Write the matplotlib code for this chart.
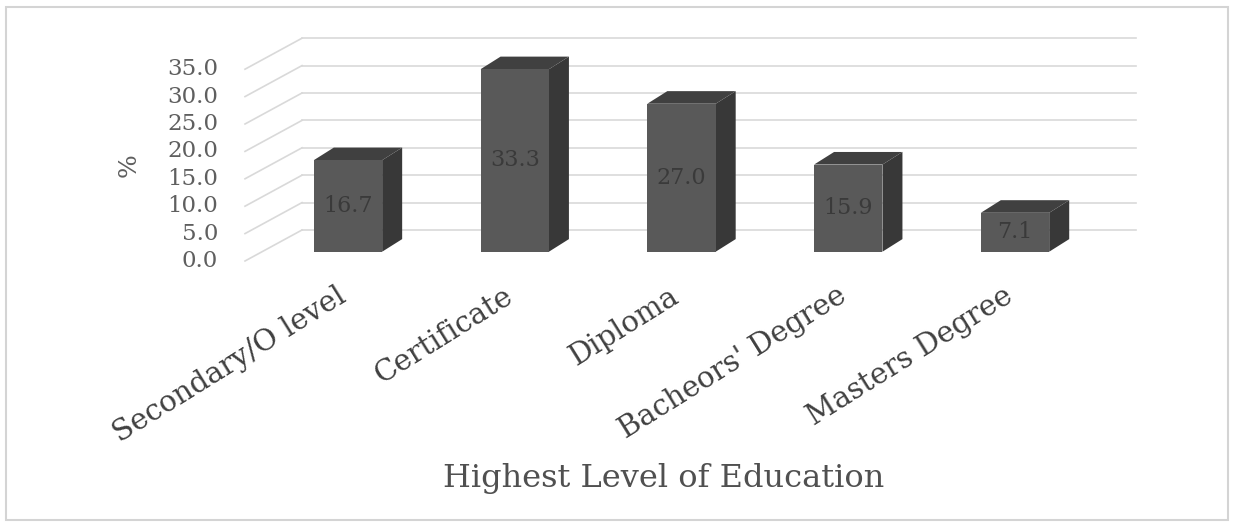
import matplotlib
matplotlib.use("Agg")
import matplotlib.pyplot as plt
from matplotlib import transforms as mtransforms
from matplotlib.patches import Rectangle, Polygon
from matplotlib.lines import Line2D

# ---- data -------------------------------------------------------------
categories = ["Secondary/O level", "Certificate", "Diploma",
              "Bacheors' Degree", "Masters Degree"]
percentages = [16.7, 33.3, 27.0, 15.9, 7.1]
y_ticks = [0, 5, 10, 15, 20, 25, 30, 35]
x_title = "Highest Level of Education"
y_title = "%"

# ---- styling ----------------------------------------------------------
W, H, DPI = 1234, 522, 100
FONT = "DejaVu Serif"
FRONT_COLOR = "#595959"
SIDE_COLOR = "#383838"
TOP_COLOR = "#404040"
GRID_COLOR = "#d9d9d9"
BAR_WIDTH = 0.41

# pseudo-3D offsets in pixels (x right, y up)
WALL_DX, WALL_DY = 37.4, 21.7      # back wall relative to bar fronts
FLOOR_DX, FLOOR_DY = -19.6, -9.3   # front edge of floor
BAR_DX, BAR_DY = 20.0, 12.6        # bar depth

fig = plt.figure(figsize=(W / DPI, H / DPI), dpi=DPI)
ax = fig.add_axes([264.6 / W, 270.3 / H, (1098.4 - 264.6) / W, (462.1 - 270.3) / H])
ax.set_xlim(-0.5, len(categories) - 0.5)
ax.set_ylim(0, 35)
ax.axis("off")

to_fig = fig.transFigure.inverted()


def shifted(dx, dy):
    return mtransforms.offset_copy(ax.transData, fig=fig, x=dx, y=dy, units="dots")


def fig_points(pts):
    """Convert (data x, data y, dx px, dy px) tuples to figure fractions."""
    out = []
    for x, y, dx, dy in pts:
        px, py = ax.transData.transform((x, y))
        out.append(to_fig.transform((px + dx, py + dy)))
    return out


x0, x1 = ax.get_xlim()

# gridlines: back wall + diagonal on the side wall (drawn beneath the axes)
for v in y_ticks:
    back = fig_points([(x0, v, WALL_DX, WALL_DY), (x1, v, WALL_DX, WALL_DY)])
    fig.add_artist(Line2D([back[0][0], back[1][0]], [back[0][1], back[1][1]],
                          transform=fig.transFigure, color=GRID_COLOR, lw=1.2,
                          zorder=-2))
    diag = fig_points([(x0, v, FLOOR_DX, FLOOR_DY), (x0, v, WALL_DX, WALL_DY)])
    fig.add_artist(Line2D([diag[0][0], diag[1][0]], [diag[0][1], diag[1][1]],
                          transform=fig.transFigure, color=GRID_COLOR, lw=1.2,
                          zorder=-2))
    ax.text(x0, v, f"{v:.1f}", transform=shifted(FLOOR_DX - 27, FLOOR_DY),
            ha="right", va="center", fontsize=16.5, color="#5f5f5f",
            family=FONT, clip_on=False)

# bars
for i, v in enumerate(percentages):
    left, right = i - BAR_WIDTH / 2, i + BAR_WIDTH / 2
    side = fig_points([(right, 0, 0, 0), (right, v, 0, 0),
                       (right, v, BAR_DX, BAR_DY), (right, 0, BAR_DX, BAR_DY)])
    top = fig_points([(left, v, 0, 0), (right, v, 0, 0),
                      (right, v, BAR_DX, BAR_DY), (left, v, BAR_DX, BAR_DY)])
    fig.add_artist(Polygon(side, closed=True, transform=fig.transFigure,
                           facecolor=SIDE_COLOR, edgecolor="none", zorder=-1))
    fig.add_artist(Polygon(top, closed=True, transform=fig.transFigure,
                           facecolor=TOP_COLOR, edgecolor="none", zorder=-1))
    ax.add_patch(Rectangle((left, 0), BAR_WIDTH, v, facecolor=FRONT_COLOR,
                           edgecolor="none", zorder=3, clip_on=False))
    ax.text(i, v / 2, f"{v:.1f}", ha="center", va="center", fontsize=16,
            color="#3a3a3a", family=FONT, zorder=4)
    ax.text(i, 0, categories[i], transform=shifted(-12, -30),
            ha="right", va="top", rotation=32, rotation_mode="anchor",
            fontsize=21, color="#404040", family=FONT, clip_on=False)

# axis titles
fig.text(663.5 / W, 1 - 487 / H, x_title, ha="center", va="baseline",
         fontsize=23, color="#505050", family=FONT)
fig.text(129 / W, 1 - 165 / H, y_title, ha="center", va="center", rotation=90,
         fontsize=18, color="#5f5f5f", family=FONT)

# chart border
fig.add_artist(Rectangle((6 / W, 1 - 520 / H), (1228 - 6) / W, (520 - 7) / H,
                         transform=fig.transFigure, fill=False,
                         edgecolor="#d4d4d4", lw=1.5))

fig.savefig("out.png", dpi=DPI, facecolor="white")
